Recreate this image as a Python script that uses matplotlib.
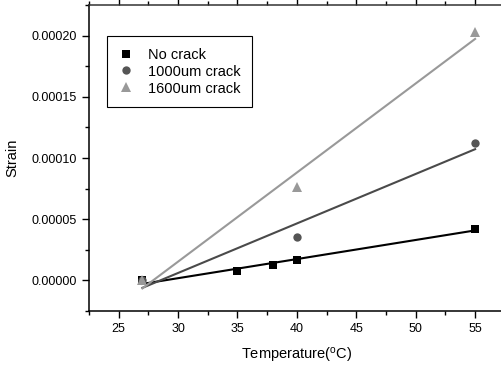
import numpy as np
import matplotlib
matplotlib.use("Agg")
import matplotlib.pyplot as plt
from matplotlib.ticker import MultipleLocator, FormatStrFormatter

plt.rcParams['font.family'] = ['Liberation Sans', 'DejaVu Sans']
plt.rcParams['mathtext.default'] = 'regular'

# data
temp_none = [27, 35, 38, 40, 55]
strain_none = [0.0, 7.6e-6, 12.3e-6, 17.0e-6, 42.4e-6]
temp_1000 = [27, 40, 55]
strain_1000 = [0.0, 35.2e-6, 112.5e-6]
temp_1600 = [27, 40, 55]
strain_1600 = [0.0, 76.0e-6, 203.0e-6]

series = [
    ("No crack", temp_none, strain_none, 's', 5.5, '#000000', '#000000'),
    ("1000um crack", temp_1000, strain_1000, 'o', 6, '#555555', '#4a4a4a'),
    ("1600um crack", temp_1600, strain_1600, '^', 7, '#999999', '#999999'),
]

fig = plt.figure(figsize=(5.01, 3.65), dpi=100)
ax = fig.add_axes([0.1776, 0.148, 0.830, 0.838])

for label, x, y, mk, ms, mcol, lcol in series:
    x = np.array(x, dtype=float)
    y = np.array(y)
    ax.plot(x, y, linestyle='none', marker=mk, markersize=ms, color=mcol,
            markeredgewidth=0, label=label, zorder=3)
    # linear fit drawn across the data range
    m, b = np.polyfit(x, y, 1)
    xf = np.array([x.min(), x.max()])
    ax.plot(xf, m * xf + b, color=lcol, linewidth=1.5, zorder=2)

ax.set_xlim(22.5, 57.5)
ax.set_ylim(-0.000025, 0.000225)
ax.xaxis.set_major_locator(MultipleLocator(5))
ax.xaxis.set_minor_locator(MultipleLocator(2.5))
ax.yaxis.set_major_locator(MultipleLocator(0.00005))
ax.yaxis.set_minor_locator(MultipleLocator(0.000025))
ax.yaxis.set_major_formatter(FormatStrFormatter('%.5f'))

ax.tick_params(which='major', direction='out', length=5, width=1, labelsize=9)
ax.tick_params(which='minor', direction='out', length=3, width=1)
ax.tick_params(axis='x', which='both', top=True)
for side in ['left', 'bottom', 'top']:
    ax.spines[side].set_linewidth(1.1)
ax.spines['top'].set_color('#333333')
ax.spines['right'].set_visible(False)

ax.set_xlabel("Temperature($^{o}$C)", fontsize=10.5, labelpad=8)
ax.set_ylabel("Strain", fontsize=10.5, labelpad=9)

leg = ax.legend(loc='upper left', bbox_to_anchor=(0.043, 0.899), fontsize=10.5,
                frameon=True, fancybox=False, edgecolor='black', framealpha=1,
                handlelength=1.0, handletextpad=1.0, labelspacing=0.2,
                borderpad=0.8, borderaxespad=0, markerscale=1.0)
leg.get_frame().set_linewidth(0.8)

fig.savefig("out.png", dpi=100)
